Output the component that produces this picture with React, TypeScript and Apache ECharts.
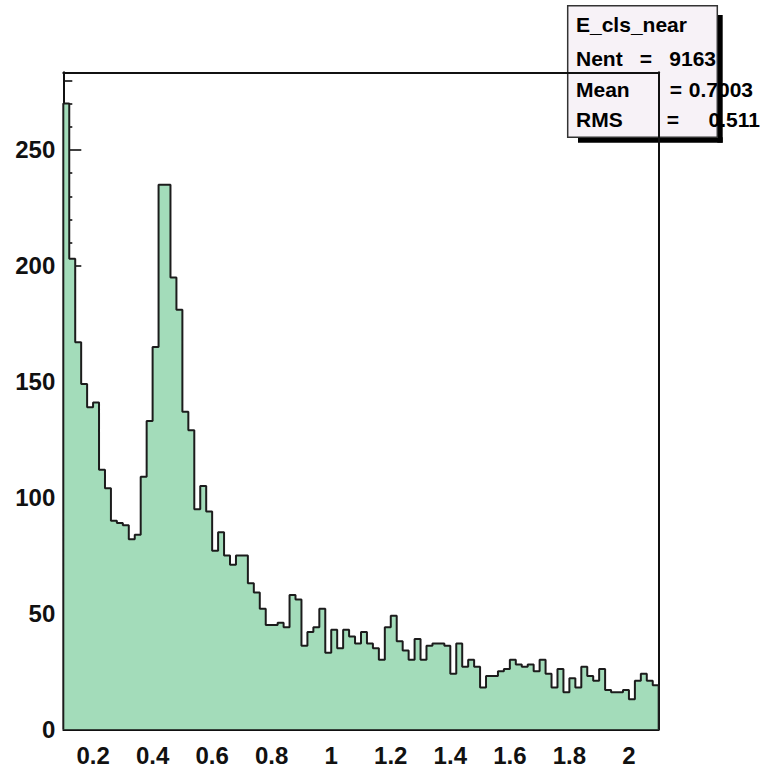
import React, { useEffect, useRef } from "react";
import * as echarts from "echarts";

// ---- data ----
const X_MIN = 0.1;
const X_MAX = 2.1;
const BIN_WIDTH = 0.02;
const Y_MAX = 283.5;

const counts = [
  270, 203, 167, 149, 139, 141, 112, 104, 90, 89,
  88, 82, 84, 109, 133, 165, 235, 235, 195, 181,
  137, 129, 95, 105, 94, 77, 85, 75, 71, 75,
  75, 63, 59, 52, 45, 45, 46, 44, 58, 56,
  36, 42, 44, 52, 33, 43, 35, 43, 40, 37,
  42, 37, 35, 30, 44, 49, 38, 34, 30, 39,
  30, 36, 37, 37, 36, 24, 37, 27, 30, 27,
  18, 23, 23, 25, 26, 30, 28, 27, 28, 25,
  30, 24, 18, 26, 16, 22, 18, 27, 23, 21,
  26, 17, 16, 16, 17, 13, 21, 24, 21, 19,
];

const xMajorTicks = [0.2, 0.4, 0.6, 0.8, 1, 1.2, 1.4, 1.6, 1.8, 2];
const xMinorTicks = [
  0.15, 0.25, 0.3, 0.35, 0.45, 0.5, 0.55, 0.65, 0.7, 0.75, 0.85, 0.9, 0.95,
  1.05, 1.1, 1.15, 1.25, 1.3, 1.35, 1.45, 1.5, 1.55, 1.65, 1.7, 1.75, 1.85,
  1.9, 1.95, 2.05,
];
const yMajorTicks = [0, 50, 100, 150, 200, 250];
const yMinorTicks = [
  10, 20, 30, 40, 60, 70, 80, 90, 110, 120, 130, 140, 160, 170, 180, 190,
  210, 220, 230, 240, 260, 270, 280,
];

const statsTitle = "E_cls_near";
const statsLabels = ["Nent", "Mean", "RMS"];
const statsValues = ["9163", "0.7003", "0.511"];

const FONT = '"Liberation Sans", Arial, Helvetica, sans-serif';
const INK = "#111111";

export default function App() {
  const ref = useRef<HTMLDivElement>(null);

  useEffect(() => {
    if (!ref.current) return;
    const chart = echarts.init(ref.current, undefined, { renderer: "svg" });

    const stepData: number[][] = [[X_MIN, 0]];
    counts.forEach((c, i) => stepData.push([X_MIN + i * BIN_WIDTH, c]));
    stepData.push([X_MAX, counts[counts.length - 1]]);
    stepData.push([X_MAX, 0]);

    const labelStyle = {
      color: INK,
      fontFamily: FONT,
      fontWeight: "bold" as const,
      fontSize: 24,
    };

    const statsRowY = [58.9, 89.2, 119.2];
    const eqX = [646, 676, 673];
    const valRight = [716, 753, 760];

    chart.setOption({
      animation: false,
      backgroundColor: "#ffffff",
      grid: { left: 63.3, right: 105.3, top: 72.3, bottom: 39.7, containLabel: false },
      xAxis: [
        {
          type: "value",
          min: X_MIN,
          max: X_MAX,
          position: "bottom",
          splitLine: { show: false },
          axisLine: { show: true, onZero: false, lineStyle: { color: INK, width: 2 } },
          axisTick: {
            show: true,
            inside: true,
            length: 20,
            customValues: xMajorTicks,
            lineStyle: { color: INK, width: 1.6 },
          },
          axisLabel: { ...labelStyle, margin: 14, customValues: xMajorTicks },
        },
        {
          type: "value",
          min: X_MIN,
          max: X_MAX,
          position: "bottom",
          splitLine: { show: false },
          axisLine: { show: false, onZero: false },
          axisTick: {
            show: true,
            inside: true,
            length: 10,
            customValues: xMinorTicks,
            lineStyle: { color: INK, width: 1.6 },
          },
          axisLabel: { show: false },
        },
        {
          type: "value",
          min: X_MIN,
          max: X_MAX,
          position: "top",
          splitLine: { show: false },
          axisLine: { show: true, onZero: false, lineStyle: { color: INK, width: 2 } },
          axisTick: { show: false },
          axisLabel: { show: false },
        },
      ],
      yAxis: [
        {
          type: "value",
          min: 0,
          max: Y_MAX,
          position: "left",
          splitLine: { show: false },
          axisLine: { show: true, onZero: false, lineStyle: { color: INK, width: 2 } },
          axisTick: {
            show: true,
            inside: true,
            length: 18,
            customValues: yMajorTicks,
            lineStyle: { color: INK, width: 1.6 },
          },
          axisLabel: { ...labelStyle, margin: 8, padding: [6, 0, 0, 0], customValues: yMajorTicks },
        },
        {
          type: "value",
          min: 0,
          max: Y_MAX,
          position: "left",
          splitLine: { show: false },
          axisLine: { show: false, onZero: false },
          axisTick: {
            show: true,
            inside: true,
            length: 9,
            customValues: yMinorTicks,
            lineStyle: { color: INK, width: 1.6 },
          },
          axisLabel: { show: false },
        },
        {
          type: "value",
          min: 0,
          max: Y_MAX,
          position: "right",
          splitLine: { show: false },
          axisLine: { show: true, onZero: false, lineStyle: { color: INK, width: 2 } },
          axisTick: { show: false },
          axisLabel: { show: false },
        },
      ],
      series: [
        {
          type: "line",
          name: statsTitle,
          xAxisIndex: 0,
          yAxisIndex: 0,
          step: "end",
          symbol: "none",
          data: stepData,
          lineStyle: { color: "#1c1c1c", width: 2 },
          areaStyle: { color: "#a3dcba", opacity: 1 },
          z: 1,
        },
      ],
      graphic: [
        {
          type: "group",
          z: 100,
          children: [
            { type: "rect", shape: { x: 717.3, y: 15, width: 5.4, height: 127.7 }, style: { fill: "#000" } },
            { type: "rect", shape: { x: 578, y: 137.3, width: 144.7, height: 5.4 }, style: { fill: "#000" } },
            {
              type: "rect",
              shape: { x: 567.7, y: 5.7, width: 149.6, height: 131.6 },
              style: { fill: "#f7f2f7", stroke: "#333333", lineWidth: 1.5 },
            },
            {
              type: "text",
              style: {
                text: statsTitle,
                x: 576,
                y: 24.2,
                font: `bold 21px ${FONT}`,
                fill: "#000",
                textAlign: "left",
                textVerticalAlign: "middle",
              },
            },
            ...statsLabels.flatMap((lab, i) => [
              {
                type: "text",
                style: {
                  text: lab,
                  x: 576,
                  y: statsRowY[i],
                  font: `bold 21px ${FONT}`,
                  fill: "#000",
                  textAlign: "left",
                  textVerticalAlign: "middle",
                },
              },
              {
                type: "text",
                style: {
                  text: "=",
                  x: eqX[i],
                  y: statsRowY[i],
                  font: `bold 21px ${FONT}`,
                  fill: "#000",
                  textAlign: "center",
                  textVerticalAlign: "middle",
                },
              },
              {
                type: "text",
                style: {
                  text: statsValues[i],
                  x: valRight[i],
                  y: statsRowY[i],
                  font: `bold 21px ${FONT}`,
                  fill: "#000",
                  textAlign: "right",
                  textVerticalAlign: "middle",
                },
              },
            ]),
          ],
        },
      ],
    });

    return () => chart.dispose();
  }, []);

  return (
    <div
      ref={ref}
      style={{ position: "fixed", left: 0, top: 0, width: 764, height: 769, background: "#fff" }}
    />
  );
}
